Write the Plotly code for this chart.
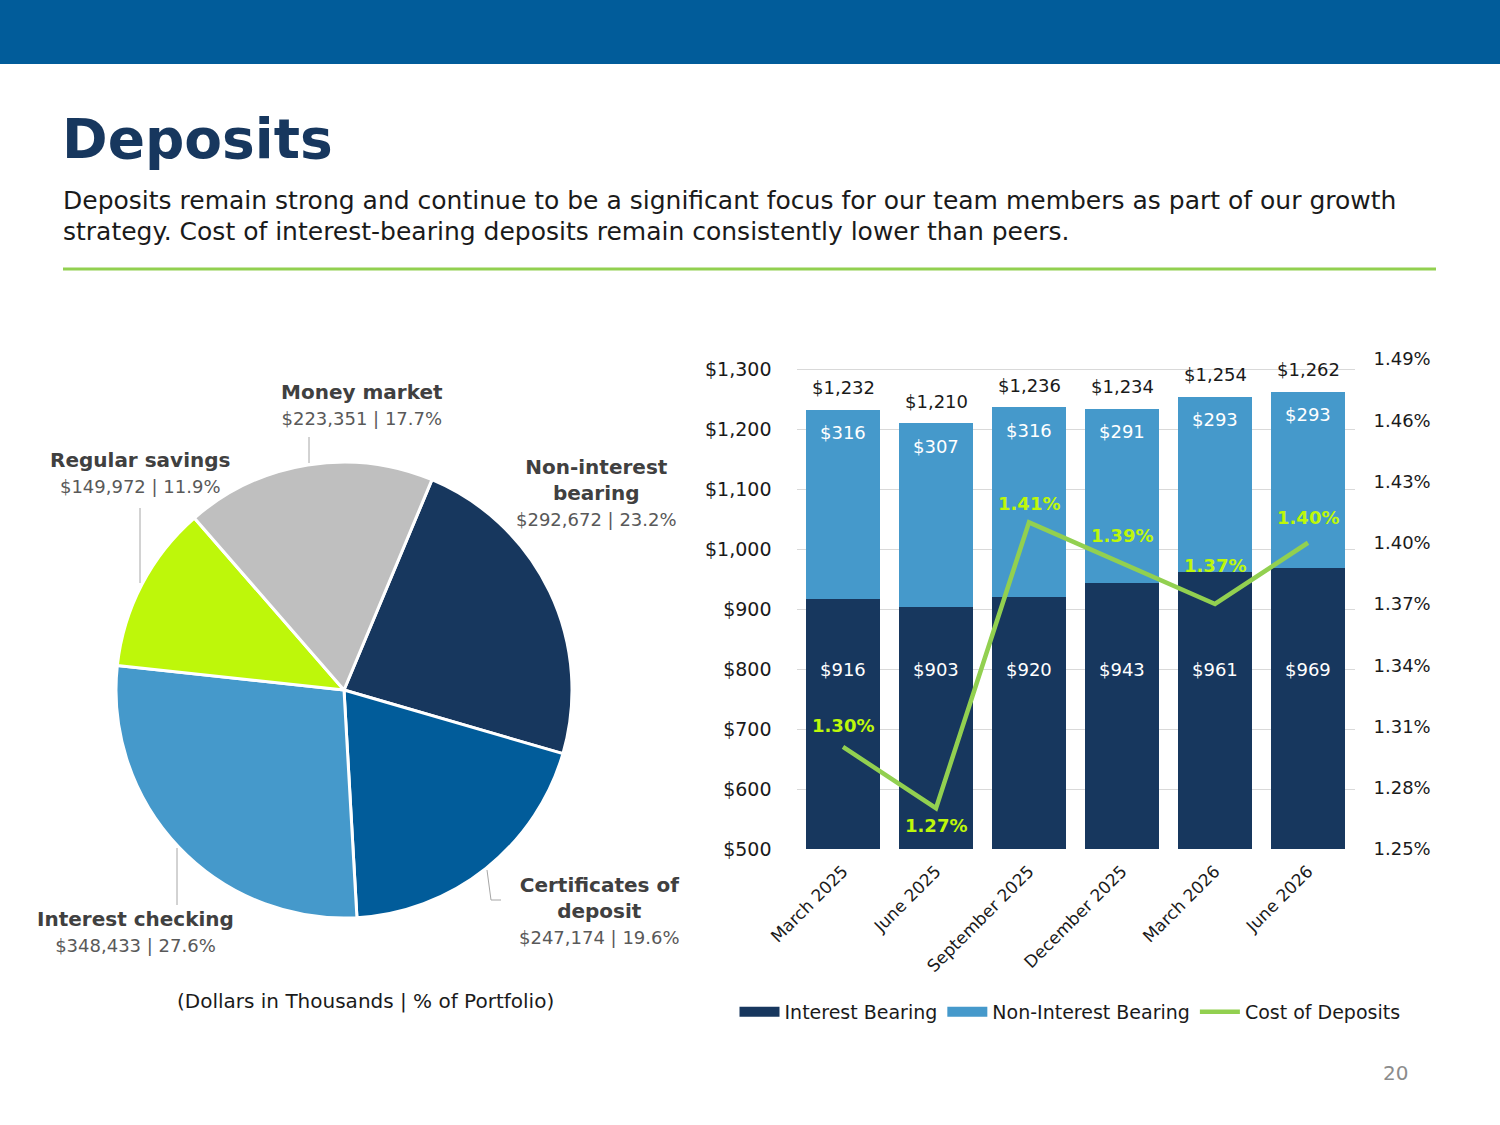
import plotly.graph_objects as go

# ---------------- data ----------------
pie_labels = ["Non-interest<br>bearing", "Certificates of<br>deposit", "Interest checking",
              "Regular savings", "Money market"]
pie_values = [292672, 247174, 348433, 149972, 223351]
pie_colors = ["#17375E", "#015C9A", "#4599CB", "#BEF70A", "#BFBFBF"]

quarters = ["March 2025", "June 2025", "September 2025", "December 2025", "March 2026", "June 2026"]
interest_bearing = [916, 903, 920, 943, 961, 969]
non_interest_bearing = [316, 307, 316, 291, 293, 293]
cost_of_deposits = [1.30, 1.27, 1.41, 1.39, 1.37, 1.40]

left_ticks = [500, 600, 700, 800, 900, 1000, 1100, 1200, 1300]
right_ticks = [1.25, 1.28, 1.31, 1.34, 1.37, 1.40, 1.43, 1.46, 1.49]

# ---------------- style ----------------
FONT = "DejaVu Sans"
W, H = 1500, 1125
NAVY = "#17375E"
LIGHT = "#4599CB"
GREEN_LINE = "#92D050"
LIME = "#BEF70A"
TXT = "#1A1A1A"


def px(x):
    return x / W


def py(y):
    return 1 - y / H


fig = go.Figure()

# pie
fig.add_trace(go.Pie(
    labels=pie_labels, values=pie_values, sort=False, direction="clockwise",
    rotation=22.7, marker=dict(colors=pie_colors, line=dict(color="white", width=3)),
    textinfo="none", hoverinfo="label+value+percent", showlegend=False,
    domain=dict(x=[px(116), px(572)], y=[py(918), py(462)]),
))

# bars (legend shown through wide swatches in the same legend group)
fig.add_trace(go.Bar(x=quarters, y=interest_bearing, name="Interest Bearing",
                     legendgroup="ib", showlegend=False,
                     marker=dict(color=NAVY, line=dict(width=0)), xaxis="x", yaxis="y"))
fig.add_trace(go.Bar(x=quarters, y=non_interest_bearing, name="Non-Interest Bearing",
                     legendgroup="nib", showlegend=False,
                     marker=dict(color=LIGHT, line=dict(width=0)), xaxis="x", yaxis="y"))
fig.add_trace(go.Scatter(x=[None], y=[None], name="Interest Bearing", legendgroup="ib",
                         mode="lines", line=dict(color=NAVY, width=12), xaxis="x", yaxis="y",
                         hoverinfo="skip"))
fig.add_trace(go.Scatter(x=[None], y=[None], name="Non-Interest Bearing", legendgroup="nib",
                         mode="lines", line=dict(color=LIGHT, width=12), xaxis="x", yaxis="y",
                         hoverinfo="skip"))
fig.add_trace(go.Scatter(x=quarters, y=cost_of_deposits, name="Cost of Deposits",
                         mode="lines", line=dict(color=GREEN_LINE, width=4.5),
                         xaxis="x", yaxis="y2"))

annotations = []
shapes = []

# header band
shapes.append(dict(type="rect", xref="paper", yref="paper", x0=0, x1=1, y0=py(64), y1=1,
                   fillcolor="#015C9A", line=dict(width=0), layer="below"))
# green rule
shapes.append(dict(type="line", xref="paper", yref="paper", x0=px(63), x1=px(1436),
                   y0=py(269), y1=py(269), line=dict(color=GREEN_LINE, width=3)))

# title and subtitle
annotations.append(dict(text="<b>Deposits</b>", x=px(60), y=py(139), xref="paper", yref="paper",
                        xanchor="left", yanchor="middle", showarrow=False,
                        font=dict(family=FONT, size=55, color=NAVY)))
annotations.append(dict(text="Deposits remain strong and continue to be a significant focus for our team members as part of our growth",
                        x=px(61), y=py(201), xref="paper", yref="paper", xanchor="left", yanchor="middle",
                        showarrow=False, font=dict(family=FONT, size=25, color=TXT)))
annotations.append(dict(text="strategy. Cost of interest-bearing deposits remain consistently lower than peers.",
                        x=px(61), y=py(232), xref="paper", yref="paper", xanchor="left", yanchor="middle",
                        showarrow=False, font=dict(family=FONT, size=25, color=TXT)))

# pie labels
total = sum(pie_values)
label_pos = [(596, 492), (599, 910), (135, 931), (140, 472), (362, 404)]
for lab, val, (lx, ly) in zip(pie_labels, pie_values, label_pos):
    pct = val / total * 100
    txt = (f"<b>{lab}</b><br><span style='color:#595959;font-size:18px'>"
           f"${val:,} | {pct:.1f}%</span>")
    annotations.append(dict(text=txt, x=px(lx), y=py(ly), xref="paper", yref="paper",
                            xanchor="center", yanchor="middle", showarrow=False, align="center",
                            font=dict(family=FONT, size=20, color="#404040")))

# leader lines
for (x0, y0, x1, y1) in [(309, 463, 309, 437), (140, 583, 140, 508), (177, 905, 177, 848),
                         (487, 870, 491, 900), (491, 900, 501, 900)]:
    shapes.append(dict(type="line", xref="paper", yref="paper", x0=px(x0), x1=px(x1),
                       y0=py(y0), y1=py(y1), line=dict(color="#A6A6A6", width=1)))

annotations.append(dict(text="(Dollars in Thousands | % of Portfolio)", x=px(365), y=py(1001),
                        xref="paper", yref="paper", xanchor="center", yanchor="middle", showarrow=False,
                        font=dict(family=FONT, size=20, color=TXT)))

# bar labels
for q, ib, nib in zip(quarters, interest_bearing, non_interest_bearing):
    annotations.append(dict(text=f"${ib:,}", x=q, y=800, xref="x", yref="y", showarrow=False,
                            xanchor="center", yanchor="middle",
                            font=dict(family=FONT, size=18, color="white")))
    annotations.append(dict(text=f"${nib:,}", x=q, y=ib + nib, yshift=-23, xref="x", yref="y",
                            showarrow=False, xanchor="center", yanchor="middle",
                            font=dict(family=FONT, size=18, color="white")))
    annotations.append(dict(text=f"${ib + nib:,}", x=q, y=ib + nib, yshift=22, xref="x", yref="y",
                            showarrow=False, xanchor="center", yanchor="middle",
                            font=dict(family=FONT, size=18, color=TXT)))

rate_shift = [21, -17, 19, 28, 39, 25]
for q, r, s in zip(quarters, cost_of_deposits, rate_shift):
    annotations.append(dict(text=f"<b>{r:.2f}%</b>", x=q, y=r, yshift=s, xref="x", yref="y2",
                            showarrow=False, xanchor="center", yanchor="middle",
                            font=dict(family=FONT, size=18, color=LIME)))

# page number
annotations.append(dict(text="20", x=px(1395), y=py(1073), xref="paper", yref="paper",
                        xanchor="center", yanchor="middle", showarrow=False,
                        font=dict(family=FONT, size=20, color="#8C8C8C")))

fig.update_layout(
    width=W, height=H, margin=dict(l=0, r=0, t=0, b=0, pad=0, autoexpand=False),
    paper_bgcolor="white", plot_bgcolor="white",
    font=dict(family=FONT, color=TXT),
    barmode="stack", bargap=0.2,
    xaxis=dict(domain=[px(796.5), px(1354.5)], showgrid=False, showline=False, zeroline=False,
               tickangle=-45, tickfont=dict(family=FONT, size=17, color=TXT), ticks="",
               ticklabelstandoff=8, automargin=False),
    yaxis=dict(domain=[py(849), py(359)], range=[500, 1316.7], tickmode="array",
               tickvals=left_ticks, ticktext=[f"${v:,}" for v in left_ticks],
               showgrid=True, gridcolor="#D9D9D9", gridwidth=1.3, automargin=False,
               zeroline=False, showline=False, ticks="", ticklabelstandoff=24,
               tickfont=dict(family=FONT, size=19, color=TXT)),
    yaxis2=dict(overlaying="y", side="right", range=[1.25, 1.49], tickmode="array",
                tickvals=right_ticks, ticktext=[f"{v:.2f}%" for v in right_ticks],
                showgrid=False, zeroline=False, showline=False, automargin=False,
                ticks="", ticklabelstandoff=18, tickfont=dict(family=FONT, size=18, color=TXT)),
    legend=dict(orientation="h", x=px(1070), xanchor="center", y=py(1012), yanchor="middle",
                font=dict(family=FONT, size=19, color=TXT), traceorder="normal",
                itemwidth=40, tracegroupgap=0),
    shapes=shapes, annotations=annotations, hovermode="closest",
)

fig.write_html("out.html", config={"displayModeBar": False},
               post_script="document.body.style.margin='0';")
